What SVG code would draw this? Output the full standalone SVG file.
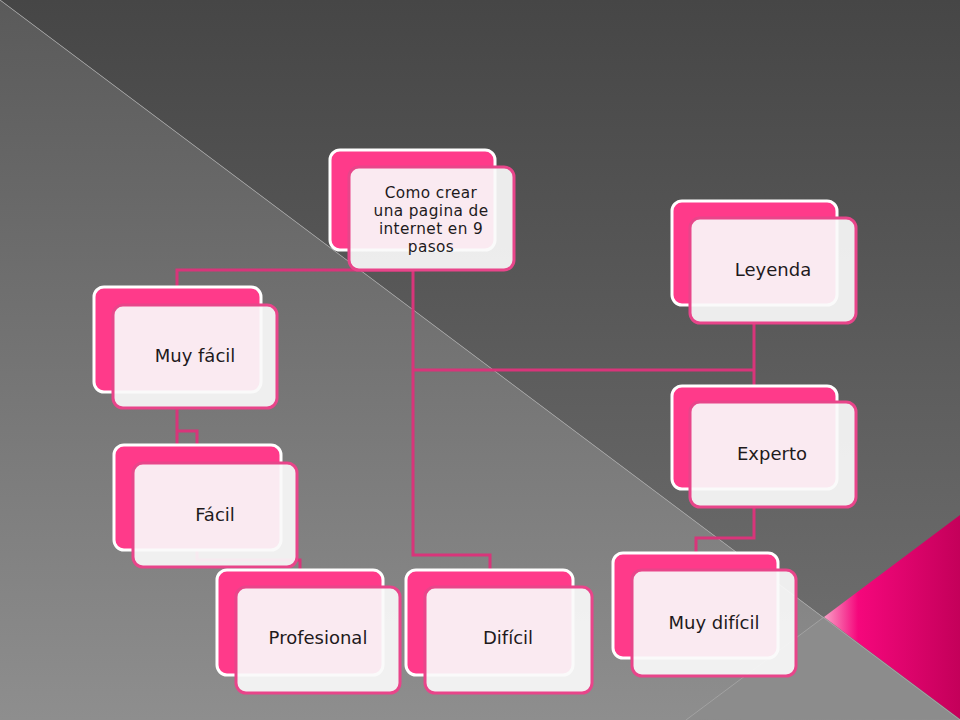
<svg xmlns="http://www.w3.org/2000/svg" width="960" height="720" viewBox="0 0 960 720">
<defs>
<linearGradient id="bgUp" x1="0" y1="0" x2="0" y2="1">
<stop offset="0" stop-color="#464646"/>
<stop offset="1" stop-color="#727272"/>
</linearGradient>
<linearGradient id="bgLow" x1="0" y1="0" x2="0" y2="1">
<stop offset="0" stop-color="#5a5a5a"/>
<stop offset="1" stop-color="#8e8e8e"/>
</linearGradient>
<linearGradient id="tri" x1="824" y1="0" x2="960" y2="0" gradientUnits="userSpaceOnUse">
<stop offset="0" stop-color="#f9a0c6"/>
<stop offset="0.25" stop-color="#f5077c"/>
<stop offset="1" stop-color="#c4005a"/>
</linearGradient>
<style>
.back{fill:#ff3a8a;stroke:#ffffff;stroke-width:3}
.front{fill:#fafafa;fill-opacity:0.92;stroke:#e8458a;stroke-width:3}
.lbl{font-family:"DejaVu Sans","Liberation Sans",sans-serif;font-size:18px;fill:#1e1a1c;text-anchor:middle}
.root{font-size:15.3px;letter-spacing:0.4px}
.con{fill:none;stroke:#d8357a;stroke-width:3}
.bgline{stroke:#a8a8a8;stroke-width:1;fill:none;opacity:0.8}
</style>
</defs>
<g id="background">
<polygon points="0,0 960,0 960,720" fill="url(#bgUp)"/>
<polygon points="0,0 960,720 0,720" fill="url(#bgLow)"/>
<polygon points="824,617 960,719 686,720" fill="#8c8c8c"/>
<line class="bgline" x1="0" y1="0" x2="960" y2="720"/>
<line class="bgline" x1="824" y1="617" x2="686" y2="720"/>
<polygon points="824,617 960,515 960,719" fill="url(#tri)"/>
</g>
<g id="connectors">
<polyline class="con" points="177,287 177,270 413,270"/>
<polyline class="con" points="413,270 413,555 490,555 490,570"/>
<polyline class="con" points="413,370 754,370"/>
<polyline class="con" points="754,323 754,386"/>
<polyline class="con" points="177,408 177,445"/>
<polyline class="con" points="177,431 197,431 197,560 300,560 300,570"/>
<polyline class="con" points="754,507 754,538 696,538 696,553"/>
</g>
<g id="node-root">
<rect class="back" x="330" y="150" width="165" height="100" rx="10"/>
<rect class="front" x="349" y="167" width="165" height="103" rx="10"/>
<text class="lbl root" x="431" y="198">Como crear</text>
<text class="lbl root" x="431" y="216">una pagina de</text>
<text class="lbl root" x="431" y="234">internet en 9</text>
<text class="lbl root" x="431" y="252">pasos</text>
</g>
<g id="node-muy-facil">
<rect class="back" x="94" y="287" width="167" height="105" rx="10"/>
<rect class="front" x="113" y="305" width="164" height="103" rx="10"/>
<text class="lbl" x="195" y="362">Muy fácil</text>
</g>
<g id="node-facil">
<rect class="back" x="114" y="445" width="167" height="105" rx="10"/>
<rect class="front" x="133" y="463" width="164" height="104" rx="10"/>
<text class="lbl" x="215" y="521">Fácil</text>
</g>
<g id="node-profesional">
<rect class="back" x="217" y="570" width="166" height="105" rx="10"/>
<rect class="front" x="236" y="587" width="164" height="106" rx="10"/>
<text class="lbl" x="318" y="644">Profesional</text>
</g>
<g id="node-dificil">
<rect class="back" x="406" y="570" width="167" height="105" rx="10"/>
<rect class="front" x="425" y="587" width="167" height="106" rx="10"/>
<text class="lbl" x="508" y="644">Difícil</text>
</g>
<g id="node-leyenda">
<rect class="back" x="672" y="201" width="165" height="104" rx="10"/>
<rect class="front" x="690" y="218" width="166" height="105" rx="10"/>
<text class="lbl" x="773" y="276">Leyenda</text>
</g>
<g id="node-experto">
<rect class="back" x="672" y="386" width="165" height="103" rx="10"/>
<rect class="front" x="690" y="402" width="166" height="105" rx="10"/>
<text class="lbl" x="772" y="460">Experto</text>
</g>
<g id="node-muy-dificil">
<rect class="back" x="613" y="553" width="165" height="105" rx="10"/>
<rect class="front" x="632" y="570" width="164" height="106" rx="10"/>
<text class="lbl" x="714" y="629">Muy difícil</text>
</g>
</svg>
